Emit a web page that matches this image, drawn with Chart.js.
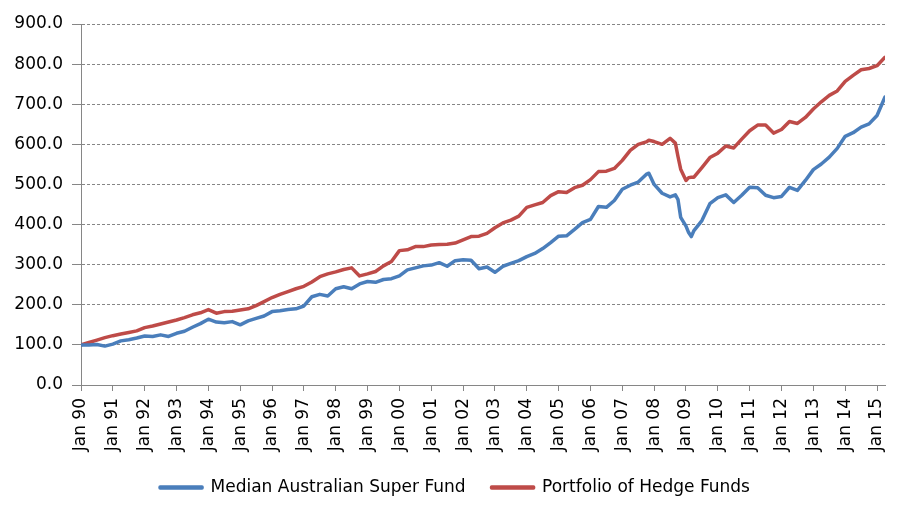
<!DOCTYPE html>
<html>
<head>
<meta charset="utf-8">
<title>Super fund vs hedge funds</title>
<script src="https://cdn.jsdelivr.net/npm/chart.js@4.4.0/dist/chart.umd.min.js"></script>
<style>
    body { margin: 0; background: #ffffff; }
    #chart-wrap { width: 910px; height: 517px; position: relative; }
</style>
</head>
<body>
<div id="chart-wrap">
    <canvas id="growth-graph"></canvas>
</div>
<script>
/**
 * Chart data (months counted from Jan 1990)
 */
const months = [
    0, 3, 6, 9, 12, 15, 18, 21, 24, 27, 30, 33, 36, 39, 42, 45, 48, 51, 54, 57,
    60, 63, 66, 69, 72, 75, 78, 81, 84, 87, 90, 93, 96, 99, 102, 105, 108, 111, 114, 117,
    120, 123, 126, 129, 132, 135, 138, 141, 144, 147, 150, 153, 156, 159, 162, 165, 168, 171, 174, 177,
    180, 183, 186, 189, 192, 195, 198, 201, 204, 207, 210, 213, 214, 216, 219, 222, 224, 225, 226, 228,
    229, 230, 231, 234, 237, 240, 243, 246, 249, 252, 255, 258, 261, 264, 267, 270, 273, 276, 279, 282,
    285, 288, 291, 294, 297, 300, 303
];

const superFund = [
    100, 100, 101, 97, 102, 110, 113, 117, 122, 121, 125, 121, 129, 134, 144, 153, 164, 157, 155, 158,
    150, 160, 166, 172, 183, 185, 188, 190, 197, 220, 226, 222, 240, 245, 240, 252, 258, 256, 263, 265,
    272, 287, 292, 297, 299, 305, 296, 310, 312, 311, 290, 294, 281, 296, 303, 310, 320, 328, 340, 355,
    371, 372, 388, 405, 413, 445, 443, 460, 488, 498, 506, 525, 528, 500, 478, 469, 474, 462, 418, 396,
    380, 370, 385, 410, 452, 467, 474, 455, 473, 493, 492, 473, 467, 470, 493, 485, 510, 537, 551, 568,
    590, 620, 629, 643, 651, 672, 718
];

const hedgeFunds = [
    100, 106, 112, 118, 123, 127, 131, 135, 143, 147, 152, 157, 162, 168, 175, 180, 188, 179, 183, 184,
    187, 190, 198, 208, 218, 226, 233, 240, 246, 257, 270, 277, 282, 288, 292, 272, 277, 283, 297, 308,
    335, 337, 345, 345, 349, 350, 351, 354, 362, 370, 371, 378, 392, 404, 411, 421, 443, 449, 455, 472,
    482, 480, 492, 498, 512, 532, 533, 540, 560, 585, 600, 606, 610, 607, 600, 615, 603, 569, 538, 510,
    517, 518, 518, 542, 567, 578, 596, 591, 613, 634, 648, 648, 628, 637, 657, 652, 667, 688, 706, 722,
    733, 757, 772, 786, 789, 796, 817
];

const yearLabels = [
    'Jan 90', 'Jan 91', 'Jan 92', 'Jan 93', 'Jan 94', 'Jan 95', 'Jan 96', 'Jan 97', 'Jan 98',
    'Jan 99', 'Jan 00', 'Jan 01', 'Jan 02', 'Jan 03', 'Jan 04', 'Jan 05', 'Jan 06', 'Jan 07',
    'Jan 08', 'Jan 09', 'Jan 10', 'Jan 11', 'Jan 12', 'Jan 13', 'Jan 14', 'Jan 15'
];

const seriesNames = ['Median Australian Super Fund', 'Portfolio of Hedge Funds'];

/**
 * Graph config
 */
const axisFont = { family: 'DejaVu Sans', size: 17 };
const axisGrey = '#868686';

//growth graph starts here
let growthChartData = {
    datasets: [
        {
            label: seriesNames[0],
            data: months.map((m, i) => ({ x: m, y: superFund[i] })),
            borderColor: '#4a7ebb',
            backgroundColor: '#4a7ebb',
            borderWidth: 3.5,
            borderCapStyle: 'round',
            borderJoinStyle: 'round',
            pointRadius: 0,
            tension: 0
        },
        {
            label: seriesNames[1],
            data: months.map((m, i) => ({ x: m, y: hedgeFunds[i] })),
            borderColor: '#be4b48',
            backgroundColor: '#be4b48',
            borderWidth: 3.5,
            borderCapStyle: 'round',
            borderJoinStyle: 'round',
            pointRadius: 0,
            tension: 0
        }
    ]
};

let growthConfig = {
    type: 'line',
    data: growthChartData,
    options: {
        responsive: true,
        maintainAspectRatio: false,
        animation: false,
        layout: {
            padding: { top: 24, right: 0, bottom: 11, left: 0 }
        },
        plugins: {
            legend: {
                position: 'bottom',
                labels: {
                    font: axisFont,
                    color: '#000000',
                    boxWidth: 42,
                    boxHeight: 1,
                    padding: 26
                }
            },
            tooltip: { enabled: false }
        },
        scales: {
            x: {
                type: 'linear',
                min: 0,
                max: 303,
                afterFit: (scale) => { scale.height = 68; },
                grid: {
                    display: true,
                    drawOnChartArea: false,
                    drawTicks: true,
                    tickLength: 6,
                    color: axisGrey
                },
                border: { display: true, color: axisGrey, width: 1 },
                ticks: {
                    stepSize: 12,
                    autoSkip: false,
                    includeBounds: false,
                    maxRotation: 90,
                    minRotation: 90,
                    padding: 7,
                    color: '#000000',
                    font: axisFont,
                    callback: (value) => yearLabels[value / 12]
                }
            },
            y: {
                min: 0,
                max: 900,
                afterFit: (scale) => { scale.width = 81; },
                grid: {
                    color: axisGrey,
                    lineWidth: 1,
                    drawTicks: true,
                    tickLength: 9,
                    tickBorderDash: []
                },
                border: { display: true, color: axisGrey, width: 1, dash: [3, 2] },
                ticks: {
                    stepSize: 100,
                    padding: 9,
                    color: '#000000',
                    font: axisFont,
                    callback: (value) => value.toFixed(1)
                }
            },
            // empty right-hand axis, only keeps the plot clear of the right edge
            yRight: {
                position: 'right',
                min: 0,
                max: 900,
                afterFit: (scale) => { scale.width = 25; },
                grid: { display: false },
                border: { display: false },
                ticks: { display: false }
            }
        }
    }
};

const growthChart = new Chart(
    document.getElementById('growth-graph'),
    growthConfig
);
//growth graph ends here
</script>
</body>
</html>
